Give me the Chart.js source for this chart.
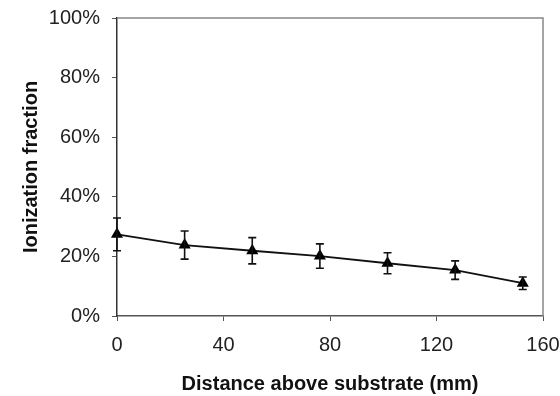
<!DOCTYPE html>
<html>
<head>
<meta charset="utf-8">
<script src="https://cdn.jsdelivr.net/npm/chart.js@4"></script>
<style>
  html, body { margin: 0; padding: 0; background: #fff; }
  #wrap { width: 560px; height: 396px; }
</style>
</head>
<body>
<div id="wrap"><canvas id="chart"></canvas></div>
<script>
// distance above substrate (mm), ionization fraction (%), error (+/- %)
const distance = [0, 25.4, 50.8, 76.2, 101.6, 127, 152.4];
const ionization = [27.4, 23.8, 21.9, 20.1, 17.7, 15.4, 11.0];
const errorBar = [5.5, 4.7, 4.4, 4.1, 3.5, 3.1, 2.1];

const xTicks = [0, 40, 80, 120, 160];
const yTicks = [0, 20, 40, 60, 80, 100];

const errorBars = {
    id: 'errorBars',
    afterDatasetsDraw(chart) {
        const ctx = chart.ctx;
        const y = chart.scales.y;
        const meta = chart.getDatasetMeta(0);
        ctx.save();
        ctx.strokeStyle = '#111';
        ctx.lineWidth = 1.6;
        meta.data.forEach((pt, i) => {
            const top = y.getPixelForValue(ionization[i] + errorBar[i]);
            const bot = y.getPixelForValue(ionization[i] - errorBar[i]);
            ctx.beginPath();
            ctx.moveTo(pt.x, top);
            ctx.lineTo(pt.x, bot);
            ctx.moveTo(pt.x - 4, top);
            ctx.lineTo(pt.x + 4, top);
            ctx.moveTo(pt.x - 4, bot);
            ctx.lineTo(pt.x + 4, bot);
            ctx.stroke();
        });
        ctx.restore();
    }
};

const frame = {
    id: 'frame',
    beforeDatasetsDraw(chart) {
        const { left, right, top, bottom } = chart.chartArea;
        const ctx = chart.ctx;
        ctx.save();
        ctx.strokeStyle = '#888';
        ctx.lineWidth = 1.5;
        ctx.beginPath();
        ctx.moveTo(left, top);
        ctx.lineTo(right, top);
        ctx.lineTo(right, bottom);
        ctx.stroke();
        ctx.restore();
    }
};

new Chart(document.getElementById('chart'), {
    type: 'scatter',
    data: {
        datasets: [{
            data: distance.map((d, i) => ({ x: d, y: ionization[i] })),
            showLine: true,
            clip: false,
            borderColor: '#111',
            borderWidth: 1.8,
            backgroundColor: '#000',
            pointStyle: 'triangle',
            pointRadius: 7,
            pointBorderWidth: 0,
            pointBackgroundColor: '#000'
        }]
    },
    options: {
        responsive: true,
        maintainAspectRatio: false,
        animation: false,
        layout: { padding: { left: 15, right: 17, top: 18, bottom: 0 } },
        plugins: { legend: { display: false }, tooltip: { enabled: false } },
        scales: {
            x: {
                type: 'linear',
                min: 0,
                max: 160,
                afterBuildTicks: s => { s.ticks = xTicks.map(v => ({ value: v })); },
                afterFit: s => { s.height = 80; s.paddingLeft = 0; s.paddingRight = 0; },
                grid: { drawOnChartArea: false, tickLength: 5, tickColor: '#555' },
                border: { color: '#555', width: 1.5 },
                ticks: { color: '#222', padding: 12, font: { family: 'Liberation Sans', size: 20 } },
                title: {
                    display: true,
                    text: 'Distance above substrate (mm)',
                    color: '#111',
                    padding: { top: 0, bottom: 0 },
                    font: { family: 'Liberation Sans', size: 20, weight: 'bold' }
                }
            },
            y: {
                min: 0,
                max: 100,
                afterBuildTicks: s => { s.ticks = yTicks.map(v => ({ value: v })); },
                afterFit: s => { s.width = 102; s.paddingTop = 0; s.paddingBottom = 0; },
                grid: { drawOnChartArea: false, tickLength: 5, tickColor: '#555' },
                border: { color: '#333', width: 1.5 },
                ticks: {
                    color: '#222',
                    padding: 12,
                    font: { family: 'Liberation Sans', size: 20 },
                    callback: v => v + '%'
                },
                title: {
                    display: true,
                    text: 'Ionization fraction',
                    color: '#111',
                    padding: { top: 4, bottom: 0 },
                    font: { family: 'Liberation Sans', size: 20, weight: 'bold' }
                }
            }
        }
    },
    plugins: [frame, errorBars]
});
</script>
</body>
</html>
